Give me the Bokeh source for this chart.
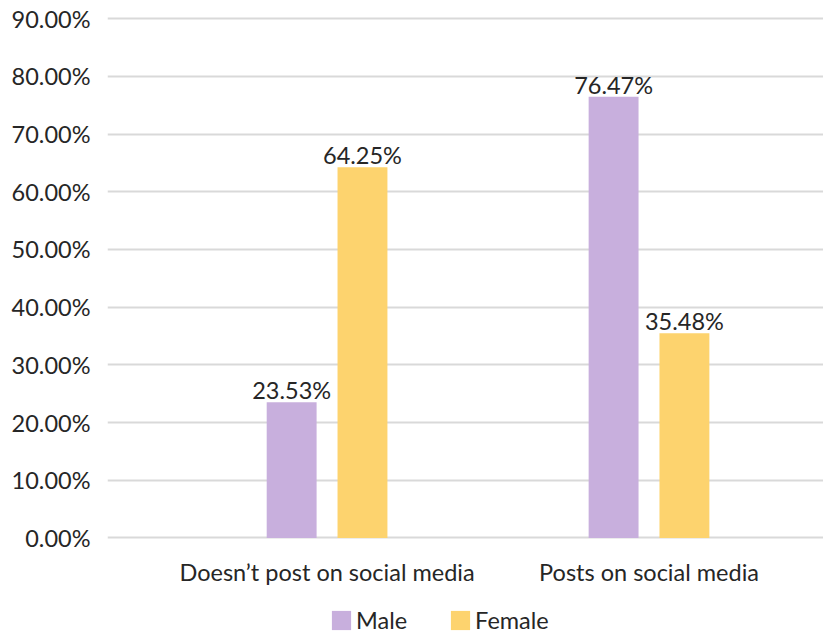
from bokeh.plotting import figure
from bokeh.models import Range1d, FixedTicker, Legend, LegendItem, ColumnDataSource, CustomJSTickFormatter
from bokeh.core.properties import value
from bokeh.embed import file_html
from bokeh.resources import INLINE

categories = ["Doesn\u2019t post on social media", "Posts on social media"]
series_names = ["Male", "Female"]
male = [23.53, 76.47]
female = [64.25, 35.48]
y_ticks = [0, 10, 20, 30, 40, 50, 60, 70, 80, 90]

FONT = "Lato"
FS = "23.5px"
TXT = "#262626"
COLORS = {"Male": "#C8AFDD", "Female": "#FDD36E"}

p = figure(width=823, height=632, output_backend="svg", toolbar_location=None,
           x_range=Range1d(0.318, 2.542), y_range=Range1d(-16.38, 91.42))
p.min_border_left = 107
p.min_border_right = 0
p.min_border_top = 10
p.min_border_bottom = 0
p.outline_line_color = None
p.background_fill_color = "white"
p.border_fill_color = "white"

xs = [i + 1 for i in range(len(categories))]
offsets = {"Male": -0.11, "Female": 0.11}
renderers = {}
for name, vals in (("Male", male), ("Female", female)):
    src = ColumnDataSource(dict(x=[x + offsets[name] for x in xs], top=vals,
                                lab=["%.2f%%" % v for v in vals]))
    r = p.vbar(x="x", top="top", bottom=0, width=0.155, source=src,
               fill_color=COLORS[name], line_color=None)
    renderers[name] = r
    p.text(x="x", y="top", text="lab", source=src, text_align="center",
           text_baseline="alphabetic", y_offset=-12, text_font=value(FONT),
           text_font_size=FS, text_color=TXT)

# category labels under the axis baseline
cat_src = ColumnDataSource(dict(x=xs, y=[0] * len(xs), lab=categories))
p.text(x="x", y="y", text="lab", source=cat_src, text_align="center",
       text_baseline="alphabetic", y_offset=34.5, text_font=value(FONT),
       text_font_size=FS, text_color=TXT)

# y axis
p.yaxis.ticker = FixedTicker(ticks=y_ticks)
p.yaxis.formatter = CustomJSTickFormatter(code="return tick.toFixed(2) + '%';")
p.yaxis.axis_line_color = None
p.yaxis.major_tick_line_color = None
p.yaxis.minor_tick_line_color = None
p.yaxis.major_label_text_font = FONT
p.yaxis.major_label_text_font_size = FS
p.yaxis.major_label_text_color = TXT
p.yaxis.major_label_standoff = 11

p.xaxis.visible = False

p.xgrid.grid_line_color = None
p.ygrid.ticker = FixedTicker(ticks=y_ticks)
p.ygrid.grid_line_color = "#D9D9D9"
p.ygrid.grid_line_width = 2

legend = Legend(items=[LegendItem(label=n, renderers=[renderers[n]]) for n in series_names],
                orientation="horizontal", location=(222, -2))
legend.border_line_color = None
legend.background_fill_alpha = 0
legend.margin = 0
legend.padding = 0
legend.glyph_width = 24
legend.glyph_height = 24
legend.label_standoff = 3
legend.spacing = 41
legend.label_text_font = FONT
legend.label_text_font_size = FS
legend.label_text_color = TXT
p.add_layout(legend, "center")

open("out.html", "w").write(file_html(p, INLINE))
